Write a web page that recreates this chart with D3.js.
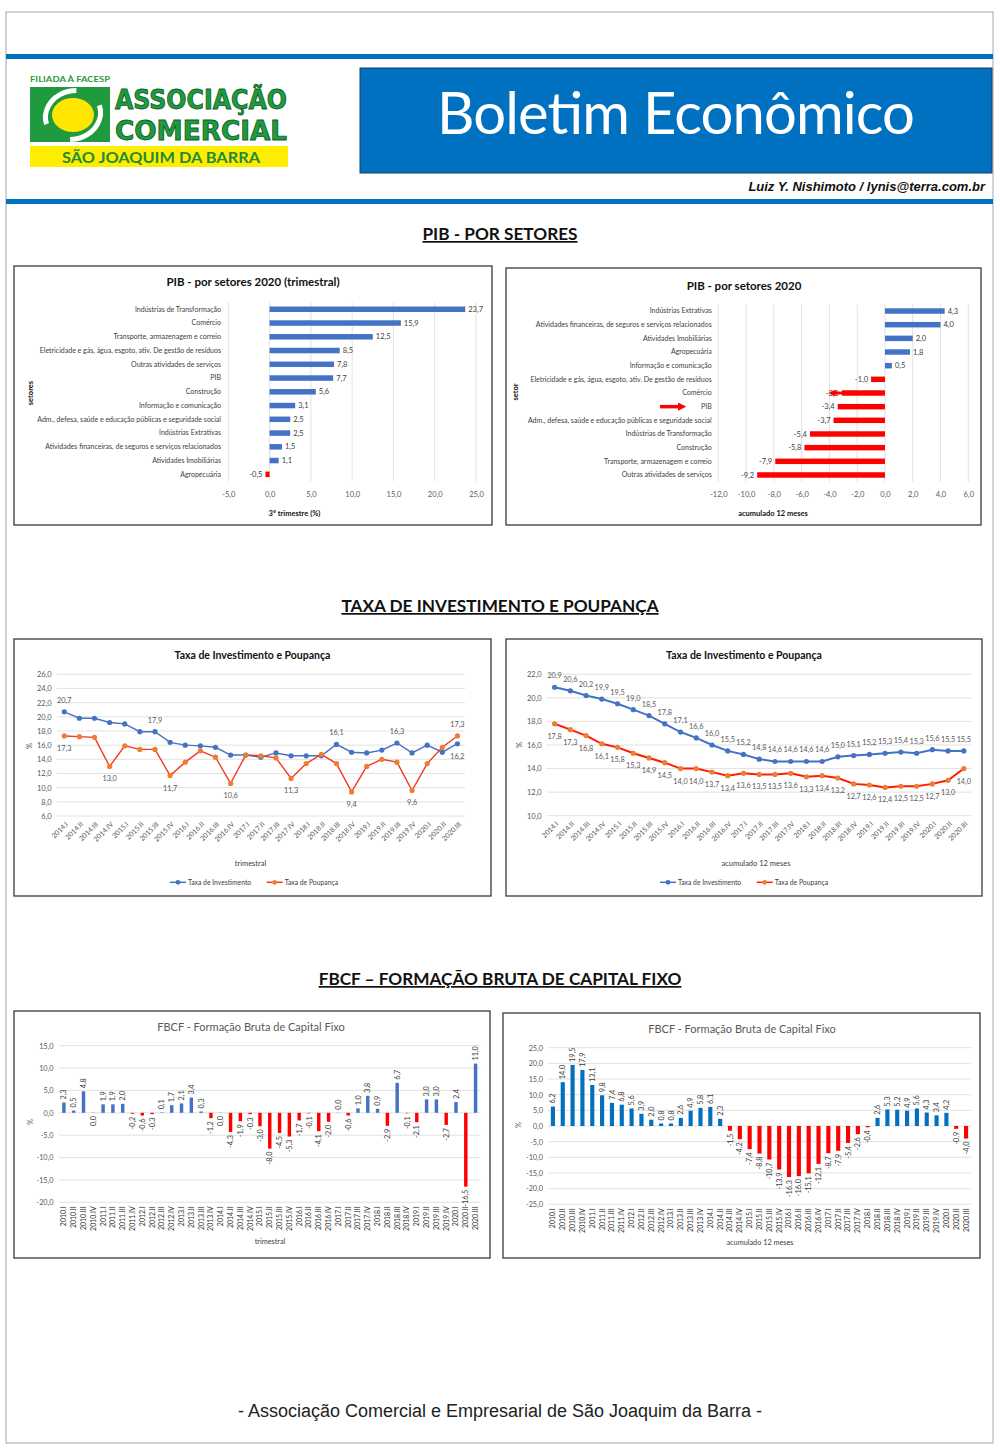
<!DOCTYPE html>
<html lang="pt-BR">
<head>
<meta charset="utf-8">
<title>Boletim Econômico</title>
<script src="https://cdn.jsdelivr.net/npm/d3@7/dist/d3.min.js"></script>
<style>
body { margin: 0; background: #fff; }
svg text { font-family: Lato, "Open Sans", sans-serif; }
</style>
</head>
<body>
<script>
// ---- dados ----
var pibTriSetores = ["Indústrias de Transformação", "Comércio", "Transporte, armazenagem e correio",
  "Eletricidade e gás, água, esgoto, ativ. De gestão de resíduos", "Outras atividades de serviços", "PIB",
  "Construção", "Informação e comunicação ", "Adm., defesa, saúde e educação públicas e seguridade social",
  "Indústrias Extrativas", "Atividades financeiras, de seguros e serviços relacionados",
  "Atividades Imobiliárias", "Agropecuária"];
var pibTriValores = [23.7, 15.9, 12.5, 8.5, 7.8, 7.7, 5.6, 3.1, 2.5, 2.5, 1.5, 1.1, -0.5];
var pibTriTicks = [-5, 0, 5, 10, 15, 20, 25];

var pibAcumSetores = ["Indústrias Extrativas", "Atividades financeiras, de seguros e serviços relacionados",
  "Atividades Imobiliárias", "Agropecuária", "Informação e comunicação ",
  "Eletricidade e gás, água, esgoto, ativ. De gestão de resíduos", "Comércio", "PIB",
  "Adm., defesa, saúde e educação públicas e seguridade social", "Indústrias de Transformação",
  "Construção", "Transporte, armazenagem e correio", "Outras atividades de serviços"];
var pibAcumValores = [4.3, 4.0, 2.0, 1.8, 0.5, -1.0, -3.1, -3.4, -3.7, -5.4, -5.8, -7.9, -9.2];
var pibAcumTicks = [-12, -10, -8, -6, -4, -2, 0, 2, 4, 6];

var trimTaxa = ["2014.I", "2014.II", "2014.III", "2014.IV", "2015.I", "2015.II", "2015.III", "2015.IV",
  "2016.I", "2016.II", "2016.III", "2016.IV", "2017.I", "2017.II", "2017.III", "2017.IV",
  "2018.I", "2018.II", "2018.III", "2018.IV", "2019.I", "2019.II", "2019.III", "2019.IV",
  "2020.I", "2020.II", "2020.III"];
var invTrim = [20.7, 19.8, 19.8, 19.2, 19.0, 17.9, 17.9, 16.4, 16.0, 15.9, 15.7, 14.6, 14.6, 14.3, 14.9,
  14.5, 14.5, 14.5, 16.1, 15.0, 14.9, 15.3, 16.3, 14.9, 16.0, 15.0, 16.2];
var poupTrim = [17.3, 17.2, 17.1, 13.0, 15.9, 15.4, 15.4, 11.7, 13.6, 15.2, 14.3, 10.6, 14.6, 14.5, 14.2,
  11.3, 13.4, 14.7, 13.4, 9.4, 13.0, 14.0, 13.6, 9.6, 13.4, 15.7, 17.3];
// pontos rotulados (índices) e lado do rótulo
var invTrimRotulos = {acima: [0, 6, 18, 22], abaixo: [26]};
var poupTrimRotulos = {acima: [26], abaixo: [0, 3, 7, 11, 15, 19, 23]};
var taxaTrimTicks = [6, 8, 10, 12, 14, 16, 18, 20, 22, 24, 26];

var invAcum = [20.9, 20.6, 20.2, 19.9, 19.5, 19.0, 18.5, 17.8, 17.1, 16.6, 16.0, 15.5, 15.2, 14.8, 14.6,
  14.6, 14.6, 14.6, 15.0, 15.1, 15.2, 15.3, 15.4, 15.3, 15.6, 15.5, 15.5];
var poupAcum = [17.8, 17.3, 16.8, 16.1, 15.8, 15.3, 14.9, 14.5, 14.0, 14.0, 13.7, 13.4, 13.6, 13.5, 13.5,
  13.6, 13.3, 13.4, 13.2, 12.7, 12.6, 12.4, 12.5, 12.5, 12.7, 13.0, 14.0];
var taxaAcumTicks = [10, 12, 14, 16, 18, 20, 22];

var trimFbcf = ["2010.I", "2010.II", "2010.III", "2010.IV", "2011.I", "2011.II", "2011.III", "2011.IV",
  "2012.I", "2012.II", "2012.III", "2012.IV", "2013.I", "2013.II", "2013.III", "2013.IV",
  "2014.I", "2014.II", "2014.III", "2014.IV", "2015.I", "2015.II", "2015.III", "2015.IV",
  "2016.I", "2016.II", "2016.III", "2016.IV", "2017.I", "2017.II", "2017.III", "2017.IV",
  "2018.I", "2018.II", "2018.III", "2018.IV", "2019.I", "2019.II", "2019.III", "2019.IV",
  "2020.I", "2020.II", "2020.III"];
var fbcfTrim = [2.3, 0.5, 4.8, -0.04, 1.9, 1.9, 2.0, -0.2, -0.6, -0.3, 0.1, 1.7, 2.1, 3.4, 0.3, -1.2,
  -0.04, -4.3, -1.9, -0.3, -3.0, -8.0, -4.5, -5.3, -1.7, -0.1, -4.1, -2.0, 0.04, -0.6, 1.0, 3.8,
  0.9, -2.9, 6.7, -0.1, -2.1, 3.0, 3.0, -2.7, 2.4, -16.5, 11.0];
var fbcfTrimTicks = [-20, -15, -10, -5, 0, 5, 10, 15];
var fbcfAcum = [6.2, 14.0, 19.5, 17.9, 13.1, 9.8, 7.4, 6.8, 5.6, 3.9, 2.0, 0.8, 0.8, 2.6, 4.9, 5.8,
  6.1, 2.3, -1.5, -4.2, -7.4, -8.8, -10.7, -13.9, -16.3, -16.0, -15.1, -12.1, -8.7, -7.9, -5.4, -2.6,
  -0.4, 2.6, 5.3, 5.2, 4.9, 5.6, 4.3, 3.4, 4.2, -0.9, -4.0];
var fbcfAcumTicks = [-25, -20, -15, -10, -5, 0, 5, 10, 15, 20, 25];

// ---- página ----
var w = 1000, h = 1448;
var svg = d3.select("body").append("svg").attr("width", w).attr("height", h);
var br = d3.formatLocale({decimal: ",", thousands: ".", grouping: [3], currency: ["R$", ""], minus: "-"});
var fmt = br.format(".1f");

var defs = svg.append("defs");
defs.append("marker").attr("id", "seta").attr("viewBox", "0 0 10 10").attr("refX", 5).attr("refY", 5)
  .attr("markerWidth", 2.4).attr("markerHeight", 2.4).attr("orient", "auto")
  .append("path").attr("d", "M0,0 L10,5 L0,10 z").attr("fill", "#ff0000");

svg.append("rect").attr("x", 6).attr("y", 12).attr("width", 987).attr("height", 1431)
  .attr("fill", "#fff").attr("stroke", "#a6a6a6").attr("stroke-width", 1);

// barras azuis do cabeçalho
svg.append("rect").attr("x", 6).attr("y", 54).attr("width", 987).attr("height", 5).attr("fill", "#0070c0");
svg.append("rect").attr("x", 6).attr("y", 199).attr("width", 987).attr("height", 5).attr("fill", "#0070c0");

// logotipo
var logo = svg.append("g");
logo.append("text").attr("x", 30).attr("y", 82).attr("font-size", 7.5).attr("font-weight", "bold")
  .attr("fill", "#2a9a3a").attr("textLength", 80).attr("lengthAdjust", "spacingAndGlyphs")
  .text("FILIADA À FACESP");
logo.append("rect").attr("x", 30).attr("y", 87).attr("width", 80).attr("height", 55).attr("fill", "#1f9a3e");
logo.append("ellipse").attr("cx", 73).attr("cy", 115).attr("rx", 28).attr("ry", 24).attr("fill", "none")
  .attr("stroke", "#fff").attr("stroke-width", 5).attr("stroke-dasharray", "52 30")
  .attr("transform", "rotate(-20,73,115)");
logo.append("ellipse").attr("cx", 73).attr("cy", 115).attr("rx", 21).attr("ry", 17).attr("fill", "#ffe500");
["ASSOCIAÇÃO", "COMERCIAL"].forEach(function(t, i) {
  logo.append("text").attr("x", 115).attr("y", 109 + i * 31).attr("font-size", 26).attr("font-weight", 900)
    .attr("fill", "#1f9a3e").attr("stroke", "#0d5f25").attr("stroke-width", 0.8)
    .attr("textLength", 172).attr("lengthAdjust", "spacingAndGlyphs")
    .style("font-family", "'DejaVu Sans Condensed', 'DejaVu Sans', sans-serif").text(t);
});
logo.append("rect").attr("x", 30).attr("y", 146).attr("width", 258).attr("height", 21).attr("fill", "#ffed00");
logo.append("text").attr("x", 62).attr("y", 163).attr("font-size", 15).attr("font-weight", "bold")
  .attr("fill", "#1f8a3a").attr("textLength", 198).attr("lengthAdjust", "spacingAndGlyphs")
  .text("SÃO JOAQUIM DA BARRA");

// caixa do título
svg.append("rect").attr("x", 360).attr("y", 68).attr("width", 632).attr("height", 105)
  .attr("fill", "#0070c0").attr("stroke", "#1f3864").attr("stroke-width", 1);
svg.append("text").attr("x", 676).attr("y", 134).attr("text-anchor", "middle").attr("font-size", 58)
  .attr("fill", "#fff").attr("textLength", 478).text("Boletim Econômico");
svg.append("text").attr("x", 985).attr("y", 191).attr("text-anchor", "end").attr("font-size", 13)
  .attr("font-weight", "bold").attr("font-style", "italic").attr("fill", "#111")
  .style("font-family", "'Liberation Sans', Arial, sans-serif").text("Luiz Y. Nishimoto / lynis@terra.com.br");

function secao(t, y) {
  svg.append("text").attr("x", 500).attr("y", y).attr("text-anchor", "middle").attr("font-size", 17.2)
    .attr("font-weight", "bold").attr("fill", "#111").style("text-decoration", "underline").text(t);
}
secao("PIB - POR SETORES", 240);
secao("TAXA DE INVESTIMENTO E POUPANÇA", 612);
secao("FBCF – FORMAÇÃO BRUTA DE CAPITAL FIXO", 985);

svg.append("text").attr("x", 500).attr("y", 1417).attr("text-anchor", "middle").attr("font-size", 18)
  .attr("fill", "#222").style("font-family", "'Liberation Sans', Arial, sans-serif")
  .text("- Associação Comercial e Empresarial de São Joaquim da Barra -");

function caixa(b) {
  svg.append("rect").attr("x", b[0]).attr("y", b[1]).attr("width", b[2] - b[0]).attr("height", b[3] - b[1])
    .attr("fill", "#fff").attr("stroke", "#3a3a3a").attr("stroke-width", 1.3);
}
function texto(g, x, y, t, size, opts) {
  opts = opts || {};
  var el = g.append("text").attr("x", x).attr("y", y).attr("text-anchor", opts.anchor || "middle")
    .attr("font-size", size).attr("fill", opts.fill || "#000")
    .attr("font-weight", opts.weight || "normal").text(t);
  if (opts.rot) el.attr("transform", "rotate(-90," + x + "," + y + ")");
  return el;
}

// ---- PIB: barras horizontais ----
function pibChart(o) {
  caixa(o.box);
  var g = svg.append("g");
  texto(g, o.tituloX, o.tituloY, o.titulo, 11.5, {weight: "bold", fill: "#111"});
  var x = d3.scaleLinear().domain(o.dominio).range(o.xr);
  var y = d3.scaleBand().domain(o.cats).range(o.yr).paddingInner(0.6).paddingOuter(0.3);

  g.selectAll("line.grid").data(o.ticks).enter().append("line")
    .attr("x1", function(d) { return x(d); }).attr("x2", function(d) { return x(d); })
    .attr("y1", o.yr[0]).attr("y2", o.yr[1]).attr("stroke", "#d9d9d9").attr("stroke-width", 0.8);

  var xa = g.append("g").attr("transform", "translate(0," + o.tickY + ")")
    .call(d3.axisBottom(x).tickValues(o.ticks).tickFormat(fmt).tickSize(0).tickPadding(0));
  xa.select(".domain").remove();
  xa.selectAll("text").attr("font-size", 7.5).attr("fill", "#595959").attr("dy", "0.35em");

  var ya = g.append("g").attr("transform", "translate(" + o.rotX + ",0)")
    .call(d3.axisLeft(y).tickSize(0).tickPadding(3));
  ya.select(".domain").remove();
  ya.selectAll("text").attr("font-size", 7).attr("fill", "#404040");

  g.selectAll("rect.bar").data(o.vals).enter().append("rect")
    .attr("x", function(d) { return x(Math.min(0, d)); })
    .attr("y", function(d, i) { return y(o.cats[i]); })
    .attr("width", function(d) { return Math.abs(x(d) - x(0)); })
    .attr("height", y.bandwidth())
    .attr("fill", function(d) { return d < 0 ? "#ff0000" : "#4472c4"; });

  g.selectAll("text.val").data(o.vals).enter().append("text")
    .attr("x", function(d) { return d < 0 ? x(d) - 3 : x(d) + 3; })
    .attr("y", function(d, i) { return y(o.cats[i]) + y.bandwidth() / 2; })
    .attr("dy", "0.35em").attr("text-anchor", function(d) { return d < 0 ? "end" : "start"; })
    .attr("font-size", 7.5).attr("fill", "#404040").text(function(d) { return fmt(d); });

  texto(g, o.eixoX, o.eixoY, o.eixoTitulo, 7.5, {weight: "bold", fill: "#111"});
  texto(g, o.yTituloX, o.yTituloY, o.yTitulo, 7.5, {weight: "bold", fill: "#111", rot: true});
  return {x: x, y: y, g: g};
}

pibChart({box: [14, 266, 492, 525], titulo: "PIB - por setores 2020 (trimestral)", tituloX: 253, tituloY: 286,
  cats: pibTriSetores, vals: pibTriValores, dominio: [-5, 25], ticks: pibTriTicks,
  xr: [228.3, 476], yr: [302.4, 481.2], rotX: 224, tickY: 494.3,
  eixoTitulo: "3º trimestre (%)", eixoX: 294.5, eixoY: 516, yTitulo: "setores", yTituloX: 33, yTituloY: 393});

var pibB = pibChart({box: [506, 268, 981, 525], titulo: "PIB - por setores 2020", tituloX: 744, tituloY: 289.5,
  cats: pibAcumSetores, vals: pibAcumValores, dominio: [-12, 6], ticks: pibAcumTicks,
  xr: [718.3, 968.3], yr: [304.2, 481.8], rotX: 714.7, tickY: 494.3,
  eixoTitulo: "acumulado 12 meses", eixoX: 773, eixoY: 516, yTitulo: "setor", yTituloX: 518, yTituloY: 392});

// setas de destaque
var yPib = pibB.y("PIB") + pibB.y.bandwidth() / 2;
pibB.g.append("line").attr("x1", 660).attr("x2", 682).attr("y1", yPib).attr("y2", yPib)
  .attr("stroke", "#ff0000").attr("stroke-width", 3.5).attr("marker-end", "url(#seta)");
var yCom = pibB.y("Comércio") + pibB.y.bandwidth() / 2;
pibB.g.append("line").attr("x1", pibB.x(-3.1)).attr("x2", pibB.x(-3.1) - 10).attr("y1", yCom).attr("y2", yCom)
  .attr("stroke", "#ff0000").attr("stroke-width", 3).attr("marker-end", "url(#seta)");

// ---- Taxas: linhas ----
function linhas(o) {
  caixa(o.box);
  var g = svg.append("g");
  texto(g, o.tituloX, o.tituloY, o.titulo, 10.5, {weight: "bold", fill: "#111"});
  var x = d3.scalePoint().domain(o.cats).range(o.xr).padding(0.5);
  var y = d3.scaleLinear().domain(o.dominio).range(o.yr);

  g.selectAll("line.grid").data(o.ticks).enter().append("line")
    .attr("x1", o.xr[0]).attr("x2", o.xr[1])
    .attr("y1", function(d) { return y(d); }).attr("y2", function(d) { return y(d); })
    .attr("stroke", "#d9d9d9").attr("stroke-width", 0.8);

  var ya = g.append("g").attr("transform", "translate(" + (o.xr[0] - 3) + ",0)")
    .call(d3.axisLeft(y).tickValues(o.ticks).tickFormat(fmt).tickSize(0).tickPadding(2));
  ya.select(".domain").remove();
  ya.selectAll("text").attr("font-size", 7.5).attr("fill", "#595959");

  var xa = g.append("g").attr("transform", "translate(0," + o.yr[0] + ")")
    .call(d3.axisBottom(x).tickSize(0));
  xa.select(".domain").remove();
  xa.selectAll("text").attr("x", 0).attr("y", 0).attr("dy", "0.35em").attr("text-anchor", "end")
    .attr("transform", "translate(2,7) rotate(-45)").attr("font-size", 7).attr("fill", "#595959");

  o.series.forEach(function(s) {
    var line = d3.line().x(function(d, i) { return x(o.cats[i]); }).y(function(d) { return y(d); });
    g.append("path").datum(s.vals).attr("d", line).attr("fill", "none")
      .attr("stroke", s.linha).attr("stroke-width", o.espessura);
    g.selectAll(null).data(s.vals).enter().append("circle")
      .attr("cx", function(d, i) { return x(o.cats[i]); }).attr("cy", function(d) { return y(d); })
      .attr("r", 2.6).attr("fill", s.marca);
    var idx = s.vals.map(function(d, i) { return i; });
    var acima = s.rotulos ? s.rotulos.acima : (s.lado === "acima" ? idx : []);
    var abaixo = s.rotulos ? s.rotulos.abaixo : (s.lado === "abaixo" ? idx : []);
    [[acima, -9], [abaixo, 15]].forEach(function(p) {
      g.selectAll(null).data(p[0]).enter().append("text")
        .attr("x", function(i) { return x(o.cats[i]); })
        .attr("y", function(i) { return y(s.vals[i]) + p[1]; })
        .attr("text-anchor", "middle").attr("font-size", 7.3).attr("fill", "#595959")
        .text(function(i) { return fmt(s.vals[i]); });
    });
  });

  texto(g, o.eixoX, o.eixoY, o.eixoTitulo, 7.5, {fill: "#404040"});
  texto(g, o.yTituloX, o.yTituloY, "%", 7.5, {fill: "#404040", rot: true});

  o.series.forEach(function(s, k) {
    var lx = o.legenda[k];
    g.append("line").attr("x1", lx).attr("x2", lx + 16).attr("y1", o.legendaY).attr("y2", o.legendaY)
      .attr("stroke", s.linha).attr("stroke-width", 1.5);
    g.append("circle").attr("cx", lx + 8).attr("cy", o.legendaY).attr("r", 2.4).attr("fill", s.marca);
    texto(g, lx + 18, o.legendaY + 2.5, s.nome, 6.8, {anchor: "start", fill: "#404040"});
  });
}

linhas({box: [14, 639, 491, 896], titulo: "Taxa de Investimento e Poupança", tituloX: 252.5, tituloY: 659,
  cats: trimTaxa, dominio: [6, 26], ticks: taxaTrimTicks, xr: [56.7, 465], yr: [816, 674.3], espessura: 1.4,
  series: [
    {nome: "Taxa de Investimento", vals: invTrim, linha: "#4472c4", marca: "#4472c4", rotulos: invTrimRotulos},
    {nome: "Taxa de Poupança", vals: poupTrim, linha: "#f03a24", marca: "#ed7d31", rotulos: poupTrimRotulos}],
  eixoTitulo: "trimestral", eixoX: 250.5, eixoY: 866, yTituloX: 32, yTituloY: 746,
  legenda: [170, 266.7], legendaY: 882.3});

linhas({box: [506, 639, 982, 896], titulo: "Taxa de Investimento e Poupança", tituloX: 744, tituloY: 659,
  cats: trimTaxa, dominio: [10, 22], ticks: taxaAcumTicks, xr: [546.7, 971.7], yr: [815.7, 674.3], espessura: 2,
  series: [
    {nome: "Taxa de Investimento", vals: invAcum, linha: "#4472c4", marca: "#4472c4", lado: "acima"},
    {nome: "Taxa de Poupança", vals: poupAcum, linha: "#ff1a00", marca: "#ed7d31", lado: "abaixo"}],
  eixoTitulo: "acumulado 12 meses", eixoX: 756, eixoY: 866, yTituloX: 522, yTituloY: 745,
  legenda: [660, 756.7], legendaY: 882.3});

// ---- FBCF: colunas ----
function colunas(o) {
  caixa(o.box);
  var g = svg.append("g");
  texto(g, o.tituloX, o.tituloY, o.titulo, 11, {fill: "#595959"});
  var x = d3.scaleBand().domain(o.cats).range(o.xr).paddingInner(o.pad).paddingOuter(o.pad / 2);
  var y = d3.scaleLinear().domain(o.dominio).range(o.yr);

  g.selectAll("line.grid").data(o.ticks).enter().append("line")
    .attr("x1", o.xr[0]).attr("x2", o.xr[1])
    .attr("y1", function(d) { return y(d); }).attr("y2", function(d) { return y(d); })
    .attr("stroke", "#d9d9d9").attr("stroke-width", 0.8);

  var ya = g.append("g").attr("transform", "translate(" + o.tickRight + ",0)")
    .call(d3.axisLeft(y).tickValues(o.ticks).tickFormat(fmt).tickSize(0).tickPadding(0));
  ya.select(".domain").remove();
  ya.selectAll("text").attr("font-size", 7.3).attr("fill", "#595959");

  var xa = g.append("g").attr("transform", "translate(0," + o.yr[0] + ")")
    .call(d3.axisBottom(x).tickSize(0));
  xa.select(".domain").remove();
  xa.selectAll("text").attr("x", 0).attr("y", 0).attr("dy", "0.35em").attr("text-anchor", "end")
    .attr("transform", "translate(0,4) rotate(-90)").attr("font-size", 7).attr("fill", "#333");

  g.selectAll("rect.bar").data(o.vals).enter().append("rect")
    .attr("x", function(d, i) { return x(o.cats[i]); }).attr("width", x.bandwidth())
    .attr("y", function(d) { return y(Math.max(0, d)); })
    .attr("height", function(d) { return Math.abs(y(d) - y(0)); })
    .attr("fill", function(d) { return d < 0 ? "#ff0000" : o.cor; });

  g.selectAll("text.val").data(o.vals).enter().append("text")
    .attr("transform", function(d, i) {
      var cx = x(o.cats[i]) + x.bandwidth() / 2;
      var cy = d < 0 ? y(d) + 3 : y(d) - 3;
      return "translate(" + cx + "," + cy + ") rotate(-90)";
    })
    .attr("dy", "0.35em").attr("text-anchor", function(d) { return d < 0 ? "end" : "start"; })
    .attr("font-size", 7.3).attr("fill", "#404040").text(function(d) { return fmt(d); });

  texto(g, o.eixoX, o.eixoY, o.eixoTitulo, 7.3, {fill: "#404040"});
  texto(g, o.yTituloX, o.yTituloY, "%", 7.5, {fill: "#595959", rot: true});
}

colunas({box: [14, 1011, 490, 1258], titulo: "FBCF - Formação Bruta de Capital Fixo", tituloX: 251, tituloY: 1031,
  cats: trimFbcf, vals: fbcfTrim, dominio: [-20, 15], ticks: fbcfTrimTicks, xr: [59, 480.5],
  yr: [1202.3, 1045.7], pad: 0.65, cor: "#4472c4", tickRight: 53.5,
  eixoTitulo: "trimestral", eixoX: 270, eixoY: 1244, yTituloX: 33, yTituloY: 1122});

colunas({box: [503, 1013, 980, 1258], titulo: "FBCF - Formação Bruta de Capital Fixo", tituloX: 742, tituloY: 1033,
  cats: trimFbcf, vals: fbcfAcum, dominio: [-25, 25], ticks: fbcfAcumTicks, xr: [548, 971],
  yr: [1204.3, 1047.7], pad: 0.58, cor: "#0070c0", tickRight: 543,
  eixoTitulo: "acumulado 12 meses", eixoX: 760, eixoY: 1245, yTituloX: 521, yTituloY: 1125});
</script>
</body>
</html>
